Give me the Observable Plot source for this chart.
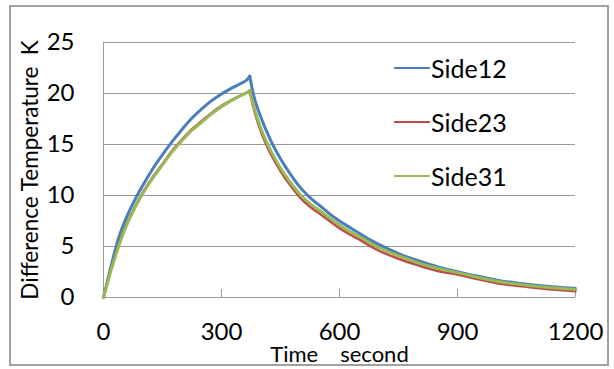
<!DOCTYPE html>
<html><head><meta charset="utf-8">
<script src="https://cdn.jsdelivr.net/npm/d3@7"></script>
<script src="https://cdn.jsdelivr.net/npm/@observablehq/plot@0.6"></script>
<style>
body{margin:0;background:#fff;}
#wrap{position:relative;width:614px;height:369px;font-family:Lato,sans-serif;}
#wrap svg{position:absolute;left:0;top:0;}
#frame{position:absolute;left:9px;top:5px;width:600px;height:361px;box-sizing:border-box;border:2px solid #a0a0a0;pointer-events:none;}
.leg{position:absolute;left:394px;height:30px;display:flex;align-items:center;font-size:25px;color:#000;white-space:nowrap;}
.leg .sw{display:inline-block;width:36px;height:2.5px;margin-right:1px;}
g[aria-label="y-axis label"]{font-size:22.5px;}
g[aria-label="x-axis label"]{font-size:22px;}
</style></head>
<body><div id="wrap"><div id="frame"></div></div>
<script>
const time = [0,10,20,30,40,60,80,100,125,150,175,200,225,250,275,300,325,350,365,372,
  380,400,425,450,475,500,525,550,575,600,625,650,675,700,750,800,850,900,950,1000,1050,1100,1150,1200];
const phase = time.map(t => t <= 372 ? "heating" : "cooling");
const side12 = [0,1.6,3.2,4.7,6.0,8.0,9.6,11.0,12.6,14.0,15.3,16.5,17.6,18.5,19.3,19.95,20.5,21.0,21.35,21.7,
  20.1,17.7,15.4,13.6,12.1,10.8,9.8,9.0,8.2,7.5,6.9,6.3,5.7,5.2,4.3,3.6,3.0,2.54,2.1,1.7,1.42,1.2,1.02,0.88];
const side23 = [0,1.45,2.85,4.1,5.3,7.3,8.9,10.3,11.8,13.1,14.4,15.5,16.5,17.3,18.1,18.8,19.35,19.85,20.1,20.2,
  18.8,16.3,14.1,12.4,11.0,9.8,8.9,8.2,7.5,6.8,6.2,5.7,5.1,4.6,3.8,3.15,2.6,2.25,1.8,1.4,1.15,0.94,0.77,0.62];
const side31 = [0,1.4,2.8,4.0,5.2,7.2,8.8,10.2,11.7,13.0,14.3,15.4,16.4,17.2,18.0,18.7,19.3,19.8,20.1,20.3,
  19.0,16.6,14.4,12.7,11.3,10.1,9.2,8.5,7.8,7.1,6.5,6.0,5.4,4.9,4.1,3.4,2.85,2.44,1.98,1.6,1.32,1.1,0.92,0.78];
const seriesNames = ["Side12","Side23","Side31"];
const seriesColors = ["#4a7ebb","#be4b48","#98b954"];
const xTicks = [0,300,600,900,1200];
const yTicks = [0,5,10,15,20,25];
const xLabel = "Time\u3000second";
const yLabel = "Difference Temperature\u2002K";

const seriesValues = [side12, side23, side31];
const widths = [3, 2.5, 3];
// heating and cooling drawn as two smooth pieces that share the peak point
const lineMarks = seriesValues.map((vals, i) => {
  const rows = [];
  time.forEach((t, j) => {
    rows.push({t, v: vals[j], p: phase[j]});
    if (j > 0 && phase[j] === "cooling" && phase[j - 1] === "heating") {
      rows.push({t: time[j - 1], v: vals[j - 1], p: "cooling"});
    }
  });
  rows.sort((a, b) => (a.p === b.p ? a.t - b.t : a.p === "heating" ? -1 : 1));
  return Plot.line(rows, {x: "t", y: "v", z: "p", stroke: seriesColors[i], strokeWidth: widths[i], curve: "monotone-x"});
});

const gray = "#9a9a9a";
const chart = Plot.plot({
  width: 614, height: 369,
  marginLeft: 103, marginRight: 39, marginTop: 42, marginBottom: 72,
  style: {fontFamily: "Lato, sans-serif", fontSize: "24px", color: "#000", background: "transparent", overflow: "visible"},
  x: {domain: [0, 1200]},
  y: {domain: [0, 25]},
  marks: [
    Plot.gridY(yTicks.slice(1), {stroke: gray, strokeOpacity: 1}),
    Plot.ruleY([0], {stroke: gray}),
    Plot.ruleX([0], {stroke: gray}),
    Plot.ruleX(xTicks.slice(1), {stroke: gray, insetTop: 247}),
    Plot.axisY(yTicks, {tickSize: 0, tickPadding: 29, tickFormat: d => String(d), label: yLabel, labelAnchor: "center", labelArrow: "none", labelOffset: 81}),
    Plot.axisX(xTicks, {tickSize: 0, tickPadding: 25, tickFormat: d => String(d), label: xLabel, labelAnchor: "center", labelArrow: "none", labelOffset: 64}),
    ...lineMarks
  ]
});
const wrap = document.getElementById("wrap");
wrap.insertBefore(chart, wrap.firstChild);

const legendTops = [53, 107, 161];
seriesNames.forEach((name, i) => {
  const d = document.createElement("div");
  d.className = "leg";
  d.style.top = legendTops[i] + "px";
  const sw = document.createElement("span");
  sw.className = "sw";
  sw.style.background = seriesColors[i];
  d.appendChild(sw);
  d.appendChild(document.createTextNode(name));
  wrap.appendChild(d);
});
</script>
</body></html>
